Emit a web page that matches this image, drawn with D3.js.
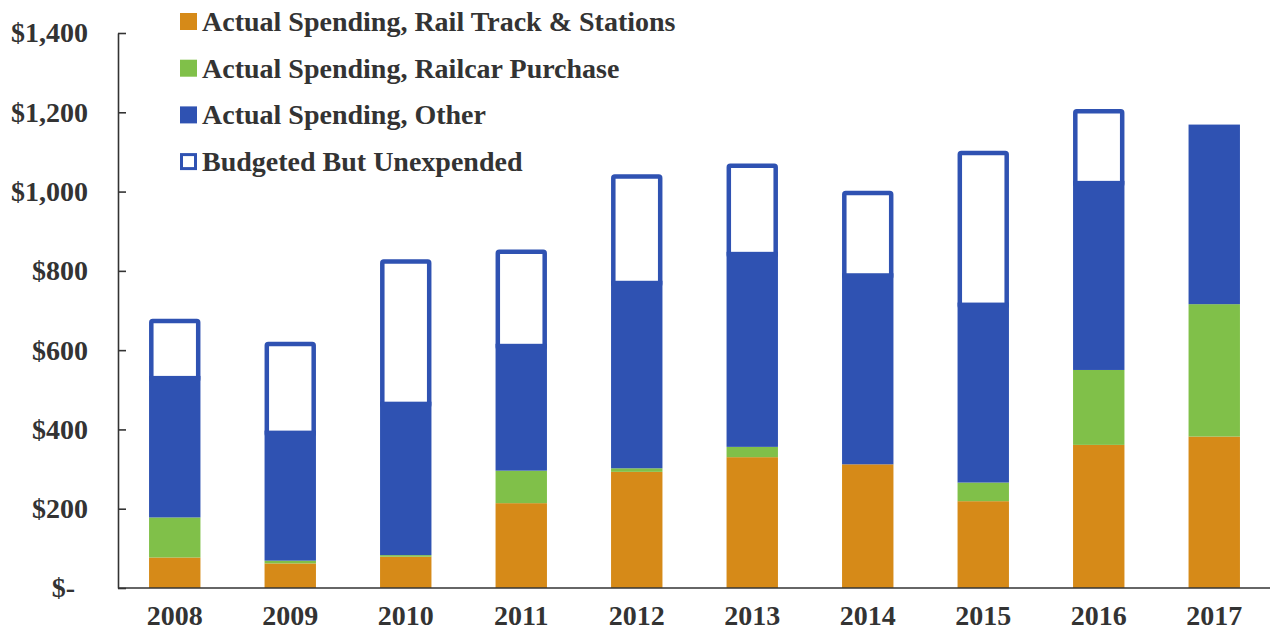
<!DOCTYPE html>
<html>
<head>
<meta charset="utf-8">
<script src="https://cdn.jsdelivr.net/npm/d3@7"></script>
<style>
  html, body { margin: 0; padding: 0; background: #ffffff; }
  svg { display: block; }
  text { font-family: "Liberation Serif", "Times New Roman", serif; font-weight: bold; fill: #333333; }
</style>
</head>
<body>
<svg id="chart" width="1270" height="634"></svg>
<script>
// Capital spending by year ($ millions)
const years = ["2008", "2009", "2010", "2011", "2012", "2013", "2014", "2015", "2016", "2017"];
const railTrack  = [77, 62, 79, 214, 293, 330, 312, 219, 361, 382];
const railcar    = [101, 7, 4, 82, 9, 26, 0, 47, 189, 334];
const other      = [357, 328, 387, 320, 473, 492, 482, 454, 477, 453];
const unexpended = [144, 224, 359, 238, 269, 223, 208, 383, 181, 0];

const yTicks = [0, 200, 400, 600, 800, 1000, 1200, 1400];
const yTickLabels = ["$-", "$200", "$400", "$600", "$800", "$1,000", "$1,200", "$1,400"];

const seriesNames = [
  "Actual Spending, Rail Track & Stations",
  "Actual Spending, Railcar Purchase",
  "Actual Spending, Other",
  "Budgeted But Unexpended"
];
const colors = { track: "#d68a18", railcar: "#80c049", other: "#2f52b2" };

const svg = d3.select("#chart");

const x = d3.scaleBand()
  .domain(years)
  .range([117, 1272])
  .paddingInner(0.555)
  .paddingOuter(0.2775);

const y = d3.scaleLinear().domain([0, 1400]).range([588, 33]);

// Rows for stacking the actual-spending segments
const rows = years.map((yr, i) => ({
  year: yr,
  track: railTrack[i],
  railcar: railcar[i],
  other: other[i],
  unexpended: unexpended[i]
}));
const stack = d3.stack().keys(["track", "railcar", "other"]);
const layers = stack(rows);

// Budgeted-but-unexpended outlined boxes (drawn first; the blue segment covers their bottom edge)
const sw = 4.5;
svg.append("g").selectAll("rect")
  .data(rows.filter(d => d.unexpended > 0))
  .join("rect")
  .attr("x", d => x(d.year) + sw / 2)
  .attr("width", x.bandwidth() - sw)
  .attr("y", d => y(d.track + d.railcar + d.other + d.unexpended) + sw / 2)
  .attr("height", d => y(d.track + d.railcar + d.other) - y(d.track + d.railcar + d.other + d.unexpended) + sw / 2)
  .attr("rx", 1.5)
  .attr("fill", "#ffffff")
  .attr("stroke", colors.other)
  .attr("stroke-width", sw);

// Stacked actual spending
svg.append("g").selectAll("g")
  .data(layers)
  .join("g")
  .attr("fill", d => colors[d.key])
  .selectAll("rect")
  .data(d => d)
  .join("rect")
  .attr("x", d => x(d.data.year))
  .attr("width", x.bandwidth())
  .attr("y", d => y(d[1]))
  .attr("height", d => y(d[0]) - y(d[1]));

// Axes
const yAxis = d3.axisLeft(y)
  .tickValues(yTicks)
  .tickFormat((d, i) => yTickLabels[i])
  .tickSizeInner(-8)
  .tickSizeOuter(0)
  .tickPadding(30);

const gy = svg.append("g").attr("transform", "translate(118,0)").call(yAxis);
gy.select(".domain").attr("stroke", "#333").attr("stroke-width", 1.6);
gy.selectAll(".tick line").attr("stroke", "#333").attr("stroke-width", 1.6);
gy.selectAll(".tick text")
  .attr("font-size", 28)
  .attr("font-family", "Liberation Serif, serif")
  .attr("font-weight", "bold")
  .attr("fill", "#333")
  // accounting-style zero sits left of the other labels
  .attr("dx", d => d === 0 ? -13 : 0);

const xAxis = d3.axisBottom(x).tickSize(0).tickPadding(17);
const gx = svg.append("g").attr("transform", "translate(0,588)").call(xAxis);
gx.select(".domain").attr("d", "M118,0H1270").attr("stroke", "#333").attr("stroke-width", 1.6);
gx.selectAll(".tick text")
  .attr("font-size", 28)
  .attr("font-family", "Liberation Serif, serif")
  .attr("font-weight", "bold")
  .attr("fill", "#333");

// Legend
const legendFills = [colors.track, colors.railcar, colors.other, "#ffffff"];
const leg = svg.append("g").attr("transform", "translate(180,13)");
const item = leg.selectAll("g")
  .data(seriesNames)
  .join("g")
  .attr("transform", (d, i) => `translate(0,${i * 46.7})`);
item.append("rect")
  .attr("x", (d, i) => i === 3 ? 1.5 : 0)
  .attr("y", (d, i) => i === 3 ? 1.5 : 0)
  .attr("width", (d, i) => i === 3 ? 14 : 17)
  .attr("height", (d, i) => i === 3 ? 14 : 17)
  .attr("fill", (d, i) => legendFills[i])
  .attr("stroke", (d, i) => i === 3 ? colors.other : "none")
  .attr("stroke-width", 3);
item.append("text")
  .attr("x", 22)
  .attr("y", 18)
  .attr("font-size", 28)
  .text(d => d);
</script>
</body>
</html>
